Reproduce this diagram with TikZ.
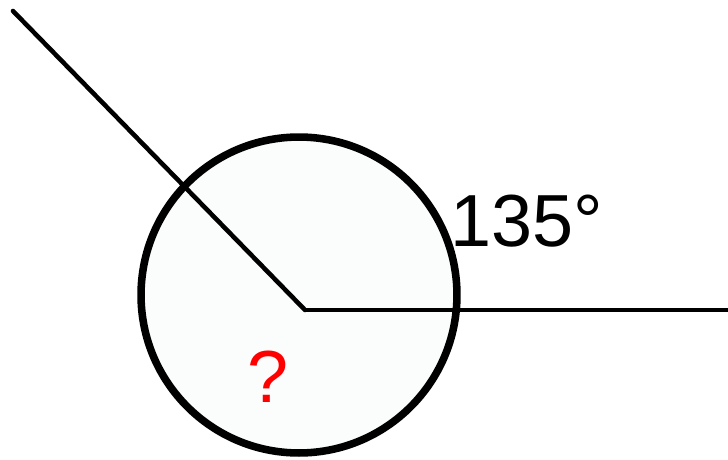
\documentclass[tikz,border=0pt]{standalone}
\usepackage{fontspec}
\setmainfont{Liberation Sans}
\usetikzlibrary{positioning}
\definecolor{PaleFill}{RGB}{251, 253, 253}
\definecolor{AskRed}{RGB}{255, 0, 0}

\begin{document}
\begin{tikzpicture}[
  x=0.02cm, y=-0.02cm,
  rim/.style={circle, draw=black, fill=PaleFill, line width=4.3pt,
              minimum size=6.32cm, inner sep=0pt},
  ray/.style={-, line width=2.6pt, color=black},
  lbl/.style={inner sep=0pt, font=\fontsize{42}{42}\selectfont}
]
  \useasboundingbox (0,0) rectangle (728,460);

  % ---- circle and angle ----
  \node[rim] (ring) at (299,295) {};
  \coordinate (vtx)  at (305,310);
  \coordinate (east) at (728,310);
  \coordinate (west) at (13,11);
  \draw[ray] (vtx) -- (east);
  \draw[ray, line cap=round] (vtx) -- (west);

  % ---- labels ----
  \node[lbl] (ang) at (527,221) {135°};
  \node[lbl, text=AskRed] (ask) at (268,377) {?};
\end{tikzpicture}
\end{document}
